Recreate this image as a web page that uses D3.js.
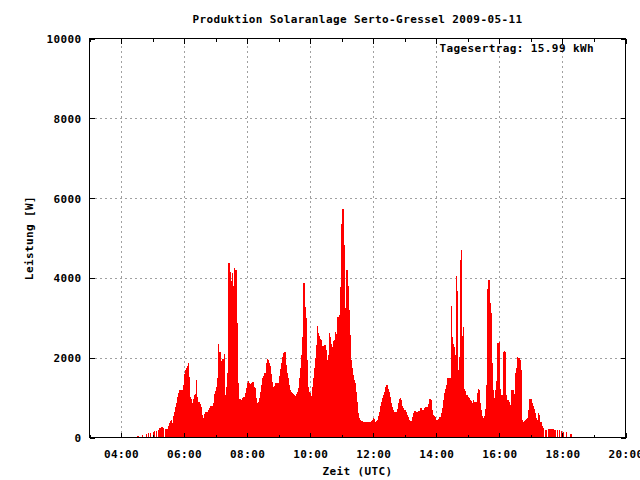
<!DOCTYPE html>
<html>
<head>
<meta charset="utf-8">
<script src="https://cdn.jsdelivr.net/npm/d3@7"></script>
<style>
  html, body { margin: 0; padding: 0; background: #fff; }
  svg { display: block; }
  text { font-family: "DejaVu Sans Mono", "Liberation Mono", monospace; font-weight: bold; fill: #000; }
</style>
</head>
<body>
<svg id="chart" width="640" height="480"></svg>
<script>
// ---- data ----
const titleText = "Produktion Solaranlage Serto-Gressel 2009-05-11";
const yieldText = "Tagesertrag: 15.99 kWh";
const xLabel = "Zeit (UTC)";
const yLabel = "Leistung [W]";
const day = "2009-05-11";
const startTime = "04:32";      // first sample
const stepMinutes = 2;          // sampling interval
const xRange = ["03:00", "20:00"];
const yTicks = [0, 2000, 4000, 6000, 8000, 10000];

// power readings [W], one every 2 minutes starting 04:32 UTC
const power = [
  40, 0, 0, 0, 60, 0, 0, 0, 90, 0,
  110, 0, 110, 0, 0, 140, 160, 0, 170, 0,
  200, 230, 230, 260, 240, 0, 210, 210, 220, 300,
  370, 410, 440, 370, 540, 630, 770, 870, 1020, 1120,
  1190, 1170, 1190, 1320, 1580, 1690, 1730, 1800, 1870, 1520,
  1020, 960, 860, 960, 1070, 1080, 1440, 1020, 900, 840,
  770, 560, 480, 600, 650, 650, 630, 690, 730, 790,
  790, 790, 870, 1080, 1160, 1270, 1500, 2340, 2150, 1770,
  1920, 1960, 2090, 1070, 1270, 1610, 4380, 4380, 4150, 3930,
  4130, 3800, 4240, 4200, 4200, 2860, 1360, 960, 910, 940,
  980, 1020, 1110, 1230, 1360, 1420, 1370, 1340, 1360, 1400,
  1380, 1270, 1230, 980, 860, 880, 980, 1150, 1320, 1480,
  1540, 1610, 1860, 1960, 1930, 1860, 1780, 1590, 1400, 1270,
  1290, 1370, 1370, 1370, 1370, 1540, 1710, 1860, 2030, 2110,
  2150, 1820, 1610, 1480, 1320, 1190, 1150, 1120, 1090, 1070,
  1040, 1080, 1150, 1250, 1480, 1750, 2070, 2530, 3880, 3280,
  3000, 1940, 1270, 1150, 1120, 1040, 1270, 1480, 1730, 1980,
  2320, 2790, 2630, 2540, 2480, 2440, 2290, 2280, 2310, 2190,
  1930, 2070, 2630, 2510, 2340, 2280, 2430, 2440, 2650, 2590,
  3030, 3010, 3070, 3780, 5350, 5720, 4820, 3240, 3190, 4210,
  3800, 3190, 2570, 1940, 1730, 1570, 1440, 1370, 1150, 900,
  620, 480, 440, 410, 420, 400, 400, 380, 360, 380,
  400, 400, 410, 440, 480, 460, 400, 410, 440, 540,
  650, 790, 900, 980, 1070, 1150, 1270, 1310, 1220, 1150,
  1020, 860, 770, 690, 640, 640, 640, 710, 860, 960,
  980, 940, 790, 730, 690, 650, 560, 510, 440, 420,
  420, 510, 610, 660, 660, 650, 650, 670, 670, 730,
  730, 700, 680, 750, 760, 760, 770, 840, 960, 940,
  690, 560, 540, 510, 440, 440, 460, 510, 520, 610,
  750, 940, 1110, 1210, 1320, 1480, 1500, 1500, 3290, 2510,
  2340, 2280, 2070, 4050, 3680, 1680, 2030, 4460, 4710, 2540,
  2780, 1210, 1170, 1070, 1010, 980, 940, 910, 860, 940,
  900, 880, 880, 1110, 1220, 1190, 870, 690, 540, 480,
  540, 710, 1320, 3710, 3950, 3360, 3110, 1870, 1200, 980,
  1190, 1420, 2380, 2360, 2400, 1210, 1070, 1070, 2150, 2180,
  2150, 1070, 940, 900, 810, 790, 1190, 1190, 1090, 1620,
  1730, 2030, 2000, 2000, 1940, 1690, 440, 400, 420, 440,
  460, 480, 690, 960, 960, 860, 800, 710, 610, 480,
  440, 610, 560, 400, 400, 290, 230, 0, 190, 190,
  0, 210, 210, 0, 210, 210, 190, 190, 0, 190,
  0, 190, 0, 160, 0, 150, 0, 0, 130, 0,
  0, 0, 90
];

// ---- helpers ----
const parseT = s => new Date(`${day}T${s}:00Z`);
const t0 = parseT(startTime);
const samples = power.map((v, i) => ({ t: new Date(t0.getTime() + i * stepMinutes * 60000), v }));

// ---- layout ----
const L = 89.5, R = 625.5, T = 38.5, B = 437.5;
const svg = d3.select("#chart");

const x = d3.scaleUtc().domain(xRange.map(parseT)).range([L, R]);
const y = d3.scaleLinear().domain([0, 10000]).range([B, T]);

const fmt = d3.utcFormat("%H:%M");
const majorX = x.ticks(d3.utcHour.every(2));
const minorX = x.ticks(d3.utcHour.every(1));

// grid
const grid = svg.append("g").attr("stroke", "#a0a0a0").attr("stroke-width", 1)
  .attr("stroke-dasharray", "2,3").attr("shape-rendering", "crispEdges");
grid.selectAll("line.gx").data(majorX.filter(d => x(d) > L + 1 && x(d) < R - 1)).join("line")
  .attr("x1", d => Math.round(x(d)) + 0.5).attr("x2", d => Math.round(x(d)) + 0.5)
  .attr("y1", B).attr("y2", T);
grid.selectAll("line.gy").data(yTicks.filter(d => d > 0 && d < 10000)).join("line")
  .attr("y1", d => Math.round(y(d)) + 0.5).attr("y2", d => Math.round(y(d)) + 0.5)
  .attr("x1", L).attr("x2", R);

// bars (impulses)
const stepPx = x(new Date(t0.getTime() + stepMinutes * 60000)) - x(t0);
svg.append("g").attr("fill", "#ff0000").attr("shape-rendering", "crispEdges")
  .selectAll("rect").data(samples.filter(d => d.v > 0)).join("rect")
  .attr("x", d => x(d.t) - stepPx / 2)
  .attr("width", stepPx + 0.2)
  .attr("y", d => y(d.v))
  .attr("height", d => y(0) - y(d.v));

// axes
const axisStyle = g => {
  g.select(".domain").remove();
  g.selectAll("line").attr("stroke", "#000").attr("shape-rendering", "crispEdges");
  g.selectAll("text").style("font-size", "11px").style("letter-spacing", "0.4px")
    .style("font-family", '"DejaVu Sans Mono", monospace').style("font-weight", "bold").attr("fill", "#000");
};

// bottom
svg.append("g").attr("transform", `translate(0,${B})`)
  .call(d3.axisBottom(x).tickValues(minorX).tickSize(-3).tickSizeOuter(0).tickFormat(""))
  .call(axisStyle);
svg.append("g").attr("transform", `translate(0,${B})`)
  .call(d3.axisBottom(x).tickValues(majorX).tickSize(-5).tickSizeOuter(0).tickFormat(fmt))
  .call(axisStyle)
  .call(g => g.selectAll("text").attr("y", 20).attr("dy", 0));
// top mirror
svg.append("g").attr("transform", `translate(0,${T})`)
  .call(d3.axisTop(x).tickValues(minorX).tickSize(-3).tickSizeOuter(0).tickFormat(""))
  .call(axisStyle);
svg.append("g").attr("transform", `translate(0,${T})`)
  .call(d3.axisTop(x).tickValues(majorX).tickSize(-5).tickSizeOuter(0).tickFormat(""))
  .call(axisStyle);
// left
svg.append("g").attr("transform", `translate(${L},0)`)
  .call(d3.axisLeft(y).tickValues(yTicks).tickSize(-5).tickSizeOuter(0).tickFormat(d3.format("d")))
  .call(axisStyle)
  .call(g => g.selectAll("text").attr("x", -8).attr("dy", "0.36em"));
// right mirror
svg.append("g").attr("transform", `translate(${R},0)`)
  .call(d3.axisRight(y).tickValues(yTicks).tickSize(-5).tickSizeOuter(0).tickFormat(""))
  .call(axisStyle);

// border
svg.append("rect").attr("x", L).attr("y", T).attr("width", R - L).attr("height", B - T)
  .attr("fill", "none").attr("stroke", "#000").attr("stroke-width", 1).attr("shape-rendering", "crispEdges");

// texts
const txt = (s, xx, yy, anchor) => svg.append("text").attr("x", xx).attr("y", yy)
  .attr("text-anchor", anchor).style("font-size", "11px").style("letter-spacing", "0.4px").text(s);
txt(titleText, (L + R) / 2, 23, "middle");
txt(yieldText, 594, 52, "end");
txt(xLabel, (L + R) / 2, 475, "middle");
svg.append("text").attr("transform", `translate(33,${(T + B) / 2}) rotate(-90)`)
  .attr("text-anchor", "middle").style("font-size", "11px").style("letter-spacing", "0.4px").text(yLabel);
</script>
</body>
</html>
